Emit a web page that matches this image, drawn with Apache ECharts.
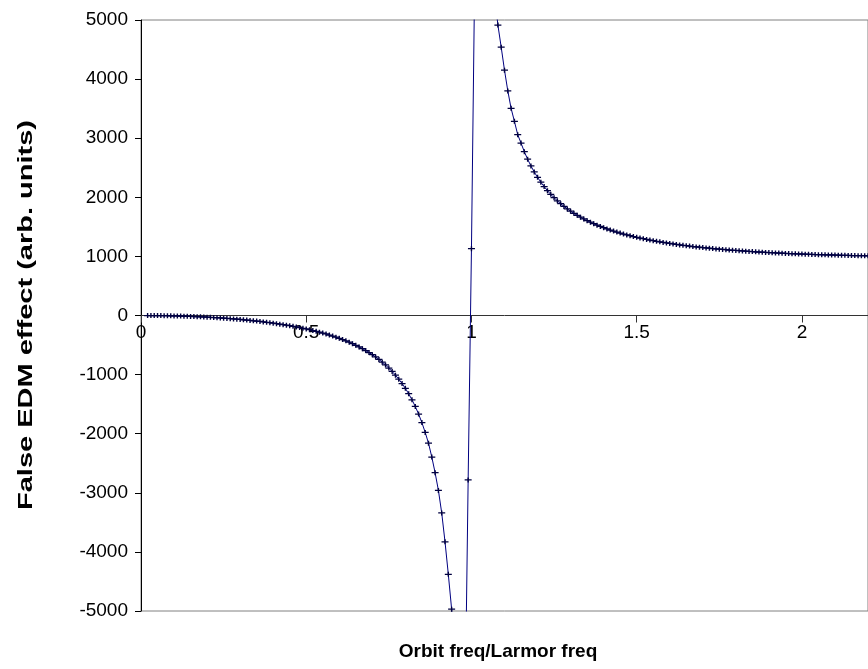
<!DOCTYPE html>
<html>
<head>
<meta charset="utf-8">
<script src="https://cdn.jsdelivr.net/npm/echarts@6/dist/echarts.min.js"></script>
<style>
  html, body { margin: 0; padding: 0; background: #fff; }
  #chart { width: 868px; height: 669px; }
</style>
</head>
<body>
<div id="chart"></div>
<script>
// Orbit frequency divided by Larmor frequency (sample positions)
const orbitRatio = [
  0.02,0.03,0.04,0.05,0.06,0.07,0.08,0.09,0.10,
  0.11,0.12,0.13,0.14,0.15,0.16,0.17,0.18,0.19,0.20,
  0.21,0.22,0.23,0.24,0.25,0.26,0.27,0.28,0.29,0.30,
  0.31,0.32,0.33,0.34,0.35,0.36,0.37,0.38,0.39,0.40,
  0.41,0.42,0.43,0.44,0.45,0.46,0.47,0.48,0.49,0.50,
  0.51,0.52,0.53,0.54,0.55,0.56,0.57,0.58,0.59,0.60,
  0.61,0.62,0.63,0.64,0.65,0.66,0.67,0.68,0.69,0.70,
  0.71,0.72,0.73,0.74,0.75,0.76,0.77,0.78,0.79,0.80,
  0.81,0.82,0.83,0.84,0.85,0.86,0.87,0.88,0.89,0.90,
  0.91,0.92,0.93,0.94,0.95,0.96,0.97,0.98,0.99,1.00,
  1.01,1.02,1.03,1.04,1.05,1.06,1.07,1.08,1.09,1.10,
  1.11,1.12,1.13,1.14,1.15,1.16,1.17,1.18,1.19,1.20,
  1.21,1.22,1.23,1.24,1.25,1.26,1.27,1.28,1.29,1.30,
  1.31,1.32,1.33,1.34,1.35,1.36,1.37,1.38,1.39,1.40,
  1.41,1.42,1.43,1.44,1.45,1.46,1.47,1.48,1.49,1.50,
  1.51,1.52,1.53,1.54,1.55,1.56,1.57,1.58,1.59,1.60,
  1.61,1.62,1.63,1.64,1.65,1.66,1.67,1.68,1.69,1.70,
  1.71,1.72,1.73,1.74,1.75,1.76,1.77,1.78,1.79,1.80,
  1.81,1.82,1.83,1.84,1.85,1.86,1.87,1.88,1.89,1.90,
  1.91,1.92,1.93,1.94,1.95,1.96,1.97,1.98,1.99,2.00,
  2.01,2.02,2.03,2.04,2.05,2.06,2.07,2.08,2.09,2.10,
  2.11,2.12,2.13,2.14,2.15,2.16,2.17,2.18,2.19,2.20
];

// False EDM effect (arb. units) at each sample
const falseEdm = [
  0,-1,-1,-2,-2,-3,-4,-6,-7,
  -8,-10,-12,-14,-16,-18,-20,-23,-25,-28,
  -31,-35,-38,-42,-45,-49,-53,-58,-62,-67,
  -72,-78,-83,-89,-95,-101,-108,-115,-122,-130,
  -138,-146,-155,-164,-173,-183,-194,-205,-216,-228,
  -240,-254,-267,-282,-297,-313,-330,-348,-367,-386,
  -407,-429,-452,-477,-504,-531,-561,-593,-627,-663,
  -702,-743,-789,-837,-890,-947,-1009,-1077,-1151,-1233,
  -1324,-1426,-1539,-1667,-1812,-1978,-2160,-2395,-2660,-2960,
  -3340,-3830,-4380,-4970,-5800,-6400,-6900,-7000,-2783,1130,
  5800,6300,6400,6300,6100,5800,5400,4915,4540,4150,
  3800,3505,3285,3060,2917,2772,2644,2530,2429,2338,
  2255,2181,2112,2050,1993,1940,1891,1846,1804,1765,
  1729,1695,1663,1633,1604,1578,1553,1529,1507,1485,
  1465,1446,1428,1411,1394,1379,1364,1350,1336,1323,
  1311,1299,1287,1276,1266,1256,1246,1237,1228,1219,
  1211,1203,1195,1188,1181,1174,1167,1161,1155,1149,
  1143,1138,1132,1127,1122,1117,1113,1108,1104,1100,
  1096,1092,1088,1084,1081,1077,1074,1071,1068,1065,
  1062,1059,1056,1054,1051,1049,1046,1044,1042,1040,
  1038,1036,1034,1032,1030,1028,1027,1025,1024,1022,
  1021,1019,1018,1017,1015,1014,1013,1012,1011,1010
];

// Axis ranges and tick spacing
const xRange = [0, 2.2];
const xStep = 0.5;
const yRange = [-5000, 5000];
const yStep = 1000;

const FONT = '"Liberation Sans", Arial, sans-serif';
const GRID_TOP = 20;
const GRID_BOTTOM = 58;
const PLOT_H = 669 - GRID_TOP - GRID_BOTTOM;
// the x axis sits on the y = 0 line, so lift it from the bottom edge
const zeroOffset = PLOT_H * (yRange[1] / (yRange[1] - yRange[0]));

const chart = echarts.init(document.getElementById('chart'), null, { renderer: 'canvas' });

chart.setOption({
  animation: false,
  backgroundColor: '#ffffff',
  grid: {
    left: 141, right: -2, top: GRID_TOP, bottom: GRID_BOTTOM,
    show: true, borderColor: '#808080', borderWidth: 1, backgroundColor: 'transparent'
  },
  xAxis: {
    type: 'value',
    min: xRange[0], max: xRange[1], interval: xStep,
    offset: -(PLOT_H - zeroOffset),
    axisLine: { show: true, onZero: false, lineStyle: { color: '#333333', width: 1 } },
    axisTick: { show: true, inside: false, length: 7, lineStyle: { color: '#333333' } },
    axisLabel: {
      show: true, margin: 8, color: '#000', fontFamily: FONT, fontSize: 19,
      showMaxLabel: false,
      formatter: v => String(+v.toFixed(1))
    },
    splitLine: { show: false }
  },
  yAxis: {
    type: 'value',
    min: yRange[0], max: yRange[1], interval: yStep,
    axisLine: { show: true, onZero: false, lineStyle: { color: '#000', width: 1 } },
    axisTick: { show: true, inside: false, length: 6, lineStyle: { color: '#000' } },
    axisLabel: {
      margin: 13, color: '#000', fontFamily: FONT, fontSize: 19,
      formatter: v => String(v)
    },
    splitLine: { show: false }
  },
  graphic: [
    {
      type: 'text', x: 498, y: 652,
      style: {
        text: 'Orbit freq/Larmor freq', font: 'bold 19px ' + FONT, fill: '#000',
        align: 'center', verticalAlign: 'middle'
      }
    },
    {
      type: 'text', x: 26, y: 315, rotation: Math.PI / 2, scaleX: 1.45,
      style: {
        text: 'False EDM effect (arb. units)', font: 'bold 20px ' + FONT, fill: '#000',
        align: 'center', verticalAlign: 'middle'
      }
    }
  ],
  series: [{
    type: 'line',
    data: orbitRatio.map((x, i) => [x, falseEdm[i]]),
    clip: true,
    symbol: 'path://M0 4H10V6H0Z M4 1H6V9H4Z',
    symbolSize: [7, 5],
    showAllSymbol: true,
    itemStyle: { color: '#000040' },
    lineStyle: { color: '#000080', width: 1 },
    emphasis: { disabled: true }
  }]
});
</script>
</body>
</html>
